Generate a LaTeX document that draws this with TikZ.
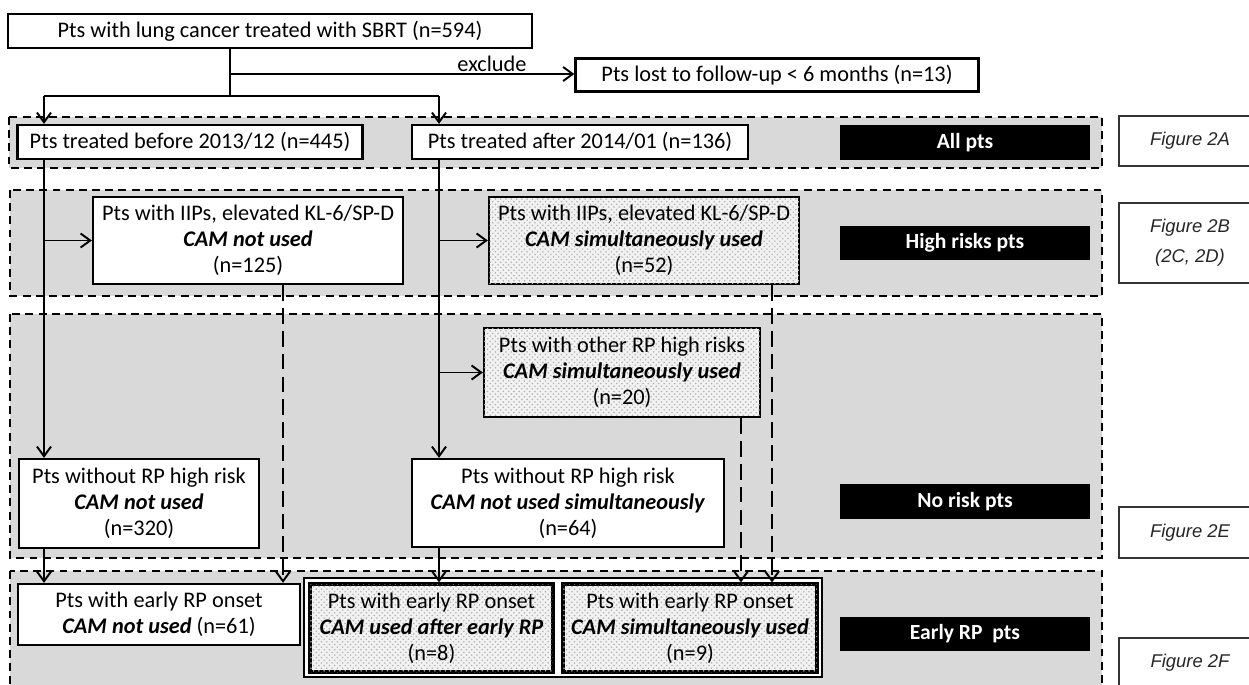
\documentclass[tikz,border=0pt]{standalone}
\usepackage{fontspec}
\setmainfont{Carlito}
\newfontfamily\figfont{Liberation Sans}
\usetikzlibrary{arrows.meta,patterns}

\begin{document}
\begin{tikzpicture}[x=0.02cm, y=-0.02cm,
    >={Straight Barb[length=5.5pt,width=8pt]},
    every node/.style={inner sep=0pt, align=center, font=\fontsize{12.7pt}{14.8pt}\selectfont},
    box/.style={draw=black, line width=1.3pt, fill=white},
    hatchbox/.style={box, fill=black!5, postaction={pattern=crosshatch dots, pattern color=black!30}},
    tagbox/.style={fill=black, text=white, minimum width=5cm, font=\fontsize{12.3pt}{14.8pt}\selectfont\bfseries},
    figbox/.style={draw=black!80, line width=0.8pt, fill=white, text=black!85, minimum width=2.84cm, font=\fontsize{10.5pt}{17pt}\selectfont\figfont\itshape},
    band/.style={draw=black, fill=black!15, line width=0.8pt, dash pattern=on 4.5pt off 3pt},
    link/.style={line width=1.1pt, ->},
    dlink/.style={link, dash pattern=on 9pt off 4pt}]
    \useasboundingbox (0,0) rectangle (1249,684);
    \clip (0,0) rectangle (1249,684);
    % bands
    \draw [band] (9,117) rectangle (1102,168);
    \draw [band] (10,190) rectangle (1102,296);
    \draw [band] (10,314) rectangle (1102,558);
    \draw [band] (10,571) rectangle (1102,720);
    % top
    \node [box, minimum width=10.48cm, minimum height=0.68cm] (sbrt) at (270,31) {Pts with lung cancer treated with SBRT (n=594)};
    \node [box, minimum width=8.06cm, minimum height=0.66cm] (lost) at (777,75) {Pts lost to follow-up < 6 months (n=13)};
    \node (exlabel) at (492,64) {exclude};
    % all pts
    \node [box, minimum width=6.9cm, minimum height=0.68cm] (before) at (190,142) {Pts treated before 2013/12 (n=445)};
    \node [box, minimum width=6.72cm, minimum height=0.68cm] (after) at (580,142) {Pts treated after 2014/01 (n=136)};
    \node [tagbox, minimum height=0.7cm] (allpts) at (965,142.5) {All pts};
    \node [figbox, minimum height=1cm] (figA) at (1190,141) {Figure 2A};
    % high risks
    \node [box, minimum width=6.2cm, minimum height=1.74cm] (iipno) at (248,240.5) {Pts with IIPs, elevated KL-6/SP-D\\\textbf{\textit{CAM not used}}\\(n=125)};
    \node [hatchbox, minimum width=6.2cm, minimum height=1.74cm] (iipcam) at (644,240.5) {Pts with IIPs, elevated KL-6/SP-D\\\textbf{\textit{CAM simultaneously used}}\\(n=52)};
    \node [tagbox, minimum height=0.68cm] (highrisk) at (965,243) {High risks pts};
    \node [figbox, minimum height=1.6cm] (figB) at (1190,243) {Figure 2B\\(2C, 2D)};
    % no risk
    \node [hatchbox, minimum width=5.52cm, minimum height=1.78cm] (otherrp) at (622,372.5) {Pts with other RP high risks\\\textbf{\textit{CAM simultaneously used}}\\(n=20)};
    \node [box, minimum width=4.8cm, minimum height=1.78cm] (norisk1) at (139,503.5) {Pts without RP high risk\\\textbf{\textit{CAM not used}}\\(n=320)};
    \node [box, minimum width=6.24cm, minimum height=1.76cm] (norisk2) at (568,503) {Pts without RP high risk\\\textbf{\textit{CAM not used simultaneously}}\\(n=64)};
    \node [tagbox, minimum height=0.7cm] (noriskpts) at (965,501.5) {No risk pts};
    \node [figbox, minimum height=1.02cm] (figE) at (1190,532.5) {Figure 2E};
    % early RP
    \node [box, minimum width=5.64cm, minimum height=1.22cm] (early1) at (159,614.5) {Pts with early RP onset\\\textbf{\textit{CAM not used}} (n=61)};
    \node [draw=black, line width=1.2pt, fill=white, minimum width=10.36cm, minimum height=1.98cm] (pair) at (563,627.5) {};
    \node [hatchbox, line width=1.8pt, minimum width=4.86cm, minimum height=1.76cm] (early2) at (431.5,628) {Pts with early RP onset\\\textbf{\textit{CAM used after early RP}}\\(n=8)};
    \node [hatchbox, line width=1.8pt, minimum width=5.08cm, minimum height=1.76cm] (early3) at (690,628) {Pts with early RP onset\\\textbf{\textit{CAM simultaneously used}}\\(n=9)};
    \node [tagbox, minimum height=0.68cm] (earlypts) at (965,634) {Early RP\ \ pts};
    \node [figbox, minimum height=1cm] (figF) at (1190,663) {Figure 2F};
    % connectors
    \coordinate (split) at (230,96);
    \coordinate (excl) at (230,74);
    \coordinate (colA) at (44,96);
    \coordinate (colB) at (439,96);
    \coordinate (dropA) at (283,0);
    \coordinate (dropB) at (741,0);
    \coordinate (dropC) at (772,0);
    \draw [line width=1.1pt] (sbrt.south -| split) -- (split);
    \draw [link] (excl) -- (excl -| lost.west);
    \draw [line width=1.1pt] (colA) -- (colB);
    \draw [link] (colA) -- (colA |- before.north);
    \draw [link] (colB) -- (colB |- after.north);
    \draw [link] (colA |- before.south) -- (colA |- norisk1.north);
    \draw [link] (colA |- iipno.west) -- (iipno.west);
    \draw [link] (colB |- after.south) -- (colB |- norisk2.north);
    \draw [link] (colB |- iipcam.west) -- (iipcam.west);
    \draw [link] (colB |- otherrp.west) -- (otherrp.west);
    \draw [link] (colA |- norisk1.south) -- (colA |- early1.north);
    \draw [dlink] (dropA |- iipno.south) -- (dropA |- early1.north);
    \draw [link] (colB |- norisk2.south) -- (colB |- early2.north);
    \draw [dlink] (dropB |- otherrp.south) -- (dropB |- early3.north);
    \draw [dlink] (dropC |- iipcam.south) -- (dropC |- early3.north);
\end{tikzpicture}
\end{document}
